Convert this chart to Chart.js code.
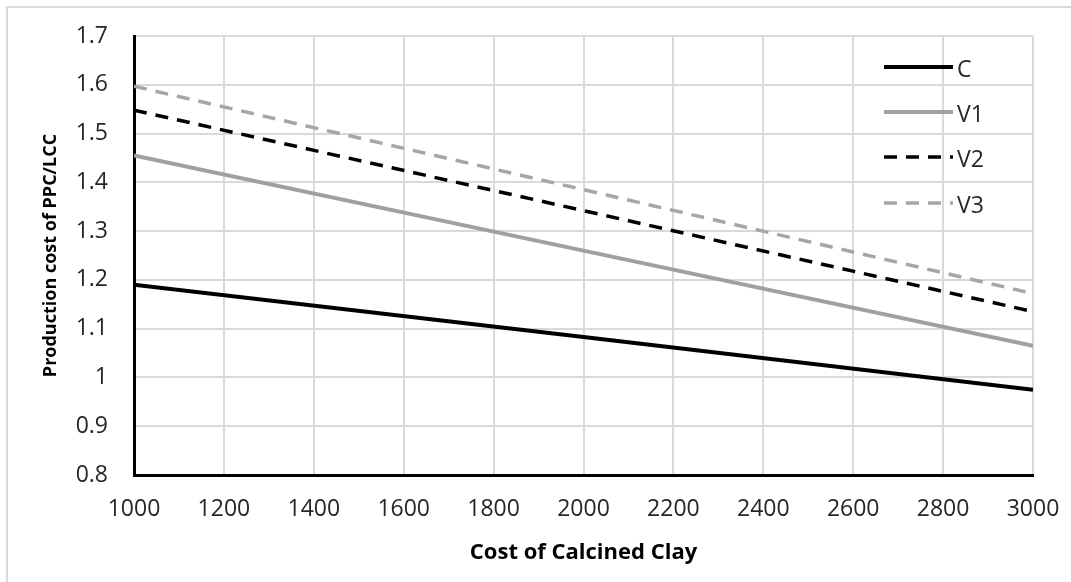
<!DOCTYPE html>
<html>
<head>
<meta charset="utf-8">
<script src="https://cdn.jsdelivr.net/npm/chart.js@4.4.1/dist/chart.umd.min.js"></script>
<style>
  html, body { margin: 0; padding: 0; background: #fff; }
  #wrap { position: relative; width: 1071px; height: 582px; overflow: hidden; }
  #frame { position: absolute; left: 6px; top: 6px; width: 1200px; height: 700px;
           border-top: 2px solid #d9d9d9; border-left: 2px solid #d9d9d9; }
  canvas { position: absolute; left: 0; top: 0; }
</style>
</head>
<body>
<div id="wrap">
  <div id="frame"></div>
  <canvas id="c" width="1071" height="582"></canvas>
</div>
<script>
// ---- data ----
const xValues = [1000, 2000, 3000];
const seriesNames = ["C", "V1", "V2", "V3"];
const valuesC  = [1.190, 1.083, 0.975];
const valuesV1 = [1.455, 1.260, 1.065];
const valuesV2 = [1.548, 1.342, 1.135];
const valuesV3 = [1.597, 1.385, 1.172];
const xTickLabels = [1000, 1200, 1400, 1600, 1800, 2000, 2200, 2400, 2600, 2800, 3000];
const yTickLabels = [0.8, 0.9, 1, 1.1, 1.2, 1.3, 1.4, 1.5, 1.6, 1.7];
const xTitle = "Cost of Calcined Clay";
const yTitle = "Production cost of PPC/LCC";

const FONT = "Open Sans";
function pts(vals) { return xValues.map((x, i) => ({ x: x, y: vals[i] })); }

const datasets = [
  { label: seriesNames[0], data: pts(valuesC),  borderColor: "#000000", borderWidth: 4,   borderDash: [] },
  { label: seriesNames[1], data: pts(valuesV1), borderColor: "#a0a0a0", borderWidth: 4,   borderDash: [] },
  { label: seriesNames[2], data: pts(valuesV2), borderColor: "#000000", borderWidth: 3.5, borderDash: [13, 9] },
  { label: seriesNames[3], data: pts(valuesV3), borderColor: "#a6a6a6", borderWidth: 3.5, borderDash: [13, 9] }
].map(d => Object.assign(d, { pointRadius: 0, fill: false, tension: 0, borderCapStyle: "butt" }));

const legendPlugin = {
  id: "customLegend",
  afterDatasetsDraw(chart) {
    const ctx = chart.ctx;
    const x0 = 884, x1 = 953, ys = [67, 112, 157, 203];
    chart.data.datasets.forEach((ds, i) => {
      ctx.save();
      ctx.strokeStyle = ds.borderColor;
      ctx.lineWidth = ds.borderWidth;
      ctx.setLineDash(ds.borderDash || []);
      ctx.beginPath();
      ctx.moveTo(x0, ys[i]);
      ctx.lineTo(x1, ys[i]);
      ctx.stroke();
      ctx.setLineDash([]);
      ctx.fillStyle = "#262626";
      ctx.font = "23px '" + FONT + "'";
      ctx.textBaseline = "middle";
      ctx.textAlign = "left";
      ctx.fillText(ds.label, x1 + 4, ys[i] + 3);
      ctx.restore();
    });
  }
};

function build() {
  new Chart(document.getElementById("c"), {
    type: "line",
    data: { datasets: datasets },
    plugins: [legendPlugin],
    options: {
      responsive: false,
      animation: false,
      layout: { padding: { left: 30, top: 36, right: 38, bottom: 10 } },
      plugins: { legend: { display: false }, tooltip: { enabled: false } },
      scales: {
        x: {
          type: "linear", min: 1000, max: 3000,
          afterBuildTicks(scale) { scale.ticks = xTickLabels.map(v => ({ value: v })); },
          afterFit(scale) { scale.height = 97; scale.paddingLeft = 0; scale.paddingRight = 0; },
          ticks: { color: "#262626", font: { family: FONT, size: 23 }, padding: 21, maxRotation: 0,
                   callback: v => String(v) },
          grid: { color: "#d9d9d9", lineWidth: 2, drawTicks: false },
          border: { color: "#000000", width: 3 },
          title: { display: true, text: xTitle, color: "#000", font: { family: FONT, size: 22, weight: "bold" },
                   padding: { top: 0, bottom: 6 } }
        },
        y: {
          type: "linear", min: 0.8, max: 1.7,
          afterBuildTicks(scale) { scale.ticks = yTickLabels.map(v => ({ value: v })); },
          afterFit(scale) { scale.width = 104; scale.paddingTop = 0; scale.paddingBottom = 0; },
          ticks: { color: "#262626", font: { family: FONT, size: 23 }, padding: 26,
                   callback: v => String(Number(v.toFixed(1))) },
          grid: { color: "#d9d9d9", lineWidth: 2, drawTicks: false },
          border: { color: "#000000", width: 3 },
          title: { display: true, text: yTitle, color: "#000", font: { family: FONT, size: 18, weight: "bold" },
                   padding: { top: 10, bottom: 0 } }
        }
      }
    }
  });
}

if (document.fonts && document.fonts.load) {
  Promise.all([
    document.fonts.load("23px '" + FONT + "'"),
    document.fonts.load("bold 22px '" + FONT + "'"),
    document.fonts.load("bold 18px '" + FONT + "'")
  ]).then(build, build);
} else {
  build();
}
</script>
</body>
</html>
